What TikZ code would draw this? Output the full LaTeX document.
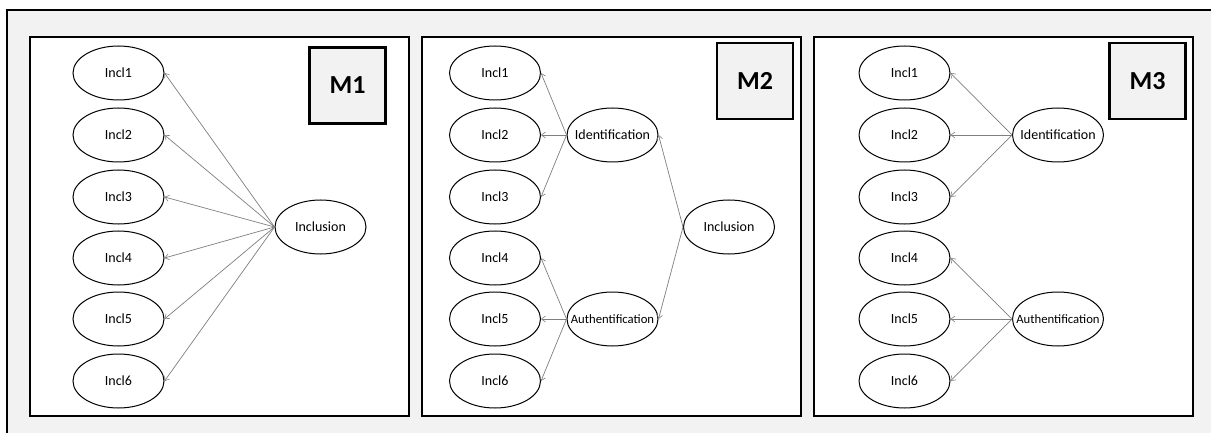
\documentclass[tikz,border=0pt]{standalone}
\usepackage{fontspec}
\setmainfont{Carlito}
\usetikzlibrary{shapes.geometric,arrows.meta}
\definecolor{bggray}{HTML}{F2F2F2}
\definecolor{linegray}{HTML}{7F7F7F}
\newcommand{\zw}[1]{\makebox[0pt]{#1}}
\begin{document}
\begin{tikzpicture}[x=1pt,y=-1pt,
  ell/.style={ellipse,draw=black,line width=1pt,fill=white,minimum width=91pt,minimum height=54pt,inner sep=0pt,font=\fontsize{14}{14}\selectfont},
  panel/.style={draw=black,line width=2.5pt,fill=white},
  mbox/.style={draw=black,line width=2.5pt,fill=bggray,minimum width=76pt,minimum height=76pt,inner sep=0pt,font=\fontsize{26}{26}\selectfont\bfseries},
  arr/.style={draw=linegray,line width=0.7pt,-{Straight Barb[length=4pt,width=6pt,line width=0.6pt]}}]
\useasboundingbox (0,0) rectangle (1211,433);
\fill[white] (0,0) rectangle (1211,433);
\draw[line width=2pt,fill=bggray] (7,10) rectangle (1225,450);
% panels
\draw[panel] (30,37) rectangle (409,416);
\draw[panel] (422,37) rectangle (801,416);
\draw[panel] (814,37) rectangle (1193,416);
% M boxes
\node[mbox] (m1) at (347.5,85.5) {M1};
\node[mbox] (m2) at (755,81) {M2};
\node[mbox] (m3) at (1147.5,81) {M3};
% Panel 1
\foreach \i/\y in {1/73,2/135,3/197,4/258,5/319,6/381}{
  \node[ell] (a\i) at (118.5,\y) {\zw{Incl\i}};
}
\node[ell] (ainc) at (320.5,227) {\zw{Inclusion}};
\foreach \i in {1,...,6}{ \draw[arr] (ainc.west) -- (a\i.east); }
% Panel 2
\foreach \i/\y in {1/73,2/135,3/197,4/258,5/319,6/381}{
  \node[ell] (b\i) at (495,\y) {\zw{Incl\i}};
}
\node[ell] (bid) at (612.5,135) {\zw{Identification}};
\node[ell] (bau) at (612.5,319) {\zw{\fontsize{12.7}{12.7}\selectfont Authentification}};
\node[ell] (binc) at (729,227) {\zw{Inclusion}};
\foreach \i in {1,2,3}{ \draw[arr] (bid.west) -- (b\i.east); }
\foreach \i in {4,5,6}{ \draw[arr] (bau.west) -- (b\i.east); }
\draw[arr] (binc.west) -- (bid.east);
\draw[arr] (binc.west) -- (bau.east);
% Panel 3
\foreach \i/\y in {1/73,2/135,3/197,4/258,5/319,6/381}{
  \node[ell] (c\i) at (904.5,\y) {\zw{Incl\i}};
}
\node[ell] (cid) at (1058,135) {\zw{Identification}};
\node[ell] (cau) at (1058,319) {\zw{\fontsize{12.7}{12.7}\selectfont Authentification}};
\foreach \i in {1,2,3}{ \draw[arr] (cid.west) -- (c\i.east); }
\foreach \i in {4,5,6}{ \draw[arr] (cau.west) -- (c\i.east); }
\end{tikzpicture}
\end{document}
